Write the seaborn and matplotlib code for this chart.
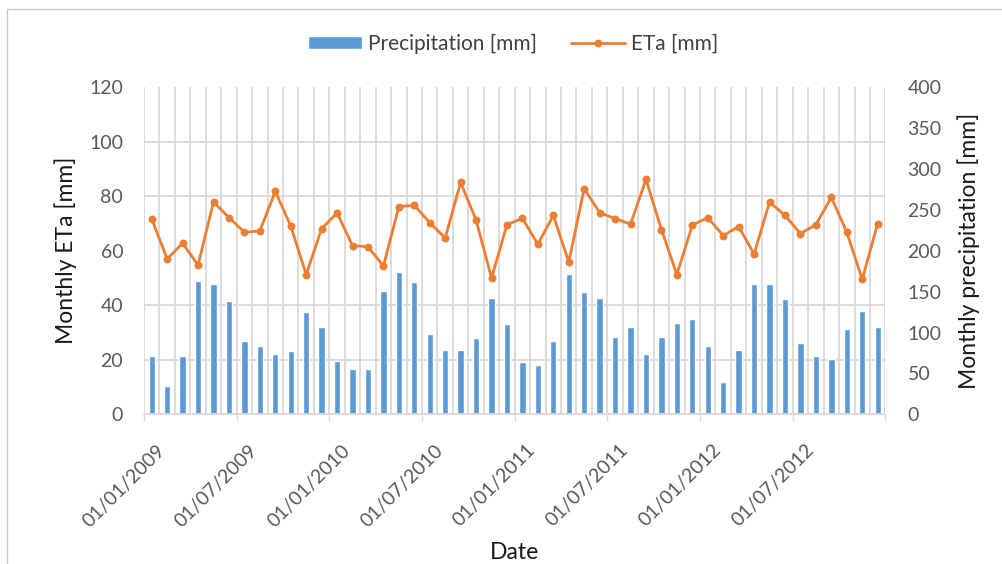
import matplotlib
matplotlib.use("Agg")
import numpy as np
import pandas as pd
import seaborn as sns
import matplotlib.pyplot as plt
from matplotlib.patches import Rectangle
from matplotlib.transforms import ScaledTranslation

# ---- data ----
months = pd.date_range("2009-01-01", periods=48, freq="MS").strftime("%Y-%m").tolist()
precip = [71, 35, 71, 163, 160, 139, 90, 84, 74, 77, 125, 107,
          65, 55, 55, 151, 174, 162, 98, 79, 79, 93, 142, 111,
          64, 60, 90, 172, 150, 142, 95, 107, 74, 95, 112, 117,
          83, 40, 79, 159, 160, 141, 87, 71, 68, 104, 126, 107]
eta = [71.7, 57.0, 62.8, 54.8, 77.9, 72.2, 66.8, 67.3, 81.8, 69.1, 51.3, 68.1,
       73.9, 61.9, 61.5, 54.4, 76.2, 76.7, 70.3, 64.7, 85.1, 71.3, 50.0, 69.6,
       71.9, 62.4, 73.0, 55.9, 82.8, 74.0, 71.8, 69.8, 86.2, 67.8, 51.3, 69.4,
       72.2, 65.6, 68.9, 58.8, 77.9, 73.0, 66.3, 69.6, 79.6, 66.8, 49.5, 70.0]
tick_labels = ["01/01/2009", "01/07/2009", "01/01/2010", "01/07/2010",
               "01/01/2011", "01/07/2011", "01/01/2012", "01/07/2012", ""]
eta_ticks = [0, 20, 40, 60, 80, 100, 120]
precip_ticks = [0, 50, 100, 150, 200, 250, 300, 350, 400]

df = pd.DataFrame({"month": months, "precip": precip, "eta": eta})

BLUE = "#5B9BD5"
ORANGE = "#ED7D31"
GRID = "#D9D9D9"
TICKC = "#595959"

sns.set_theme(style="white")
plt.rcParams["font.family"] = ["Lato", "DejaVu Sans"]

W, H = 1003, 564
fig = plt.figure(figsize=(W / 100, H / 100), dpi=100)
fig.patch.set_facecolor("white")

# chart frame (partially cut in the reference)
fig.add_artist(Rectangle((7 / W, -0.5), 2, 1.5 - 9 / H, transform=fig.transFigure,
                         fill=False, edgecolor="#C9C9C9", lw=1.0, clip_on=False))

left, right, top, bottom = 144, 885.4, 87.3, 414.3
ax = fig.add_axes([left / W, 1 - bottom / H, (right - left) / W, (bottom - top) / H])
ax.set_axisbelow(True)

sns.barplot(data=df, x="month", y="precip", ax=ax, color=BLUE, width=0.41,
            saturation=1, label="Precipitation [mm]", zorder=2)

ax2 = ax.twinx()
sns.pointplot(data=df, x="month", y="eta", ax=ax2, color=ORANGE, errorbar=None,
              markers="o", markersize=4.2, linewidth=2.0, label="ETa [mm]")

for a in (ax, ax2):
    lg = a.get_legend()
    if lg is not None:
        lg.remove()

n = len(months)
ax.set_xlim(-0.5, n - 0.5)
ax.set_ylim(0, 400)
ax2.set_ylim(0, 120)

# axis sides
ax.yaxis.tick_right()
ax.yaxis.set_label_position("right")
ax2.yaxis.tick_left()
ax2.yaxis.set_label_position("left")

# x ticks at period edges every 6 months, grid at every month edge
ax.set_xticks(np.arange(0, n + 1, 6) - 0.5)
ax.set_xticks(np.arange(0, n + 1) - 0.5, minor=True)
ax.set_xticklabels(tick_labels, rotation=45, ha="right", va="top",
                   rotation_mode="anchor", color=TICKC, fontsize=14)
ax.tick_params(axis="x", which="major", bottom=True, length=5, width=1.0,
               color=GRID, direction="out", pad=14.5)
ax.tick_params(axis="x", which="minor", bottom=False, length=0)
off = ScaledTranslation(0.12, 0, fig.dpi_scale_trans)
for lbl in ax.get_xticklabels():
    lbl.set_transform(lbl.get_transform() + off)

# right axis (precip)
ax.set_yticks(precip_ticks)
ax.set_yticklabels([str(v) for v in precip_ticks])
ax.set_yticks([v * 400 / 120 for v in eta_ticks], minor=True)
ax.tick_params(axis="y", which="both", length=0, right=True, left=False,
               labelright=True, labelleft=False, labelsize=14, labelcolor=TICKC, pad=16)

# left axis (ETa)
ax2.set_yticks(eta_ticks)
ax2.tick_params(axis="y", length=0, left=True, right=False, labelleft=True,
                labelright=False, labelsize=14, labelcolor=TICKC, pad=15)

# gridlines behind bars
ax.grid(False)
ax.grid(True, axis="x", which="both", color=GRID, lw=1.3)
ax.grid(True, axis="y", which="minor", color=GRID, lw=1.3)

for s in ("top", "left", "right"):
    ax.spines[s].set_visible(False)
ax.spines["bottom"].set_color(GRID)
ax.spines["bottom"].set_linewidth(1.3)
for s in ax2.spines.values():
    s.set_visible(False)

# axis titles
ax2.set_ylabel("Monthly ETa [mm]", fontsize=16.5, color="#1a1a1a")
ax.set_ylabel("Monthly precipitation [mm]", fontsize=16.5, color="#1a1a1a")
ax.set_xlabel("Date", fontsize=16.5, color="#1a1a1a")
ax2.yaxis.set_label_coords(-0.0904, 0.5)
ax.yaxis.set_label_coords(1.097, 0.5)
ax.xaxis.set_label_coords(0.5, -0.39)

# legend
h1, l1 = ax.get_legend_handles_labels()
h2, l2 = ax2.get_legend_handles_labels()
fig.legend(h1 + h2, l1 + l2, loc="center", bbox_to_anchor=(513 / W, 1 - 44 / H),
           ncol=2, frameon=False, fontsize=15, handlelength=2.6, handleheight=0.6,
           handletextpad=0.3, columnspacing=1.6, labelcolor="#404040")

fig.savefig("out.png", dpi=100, facecolor="white")
